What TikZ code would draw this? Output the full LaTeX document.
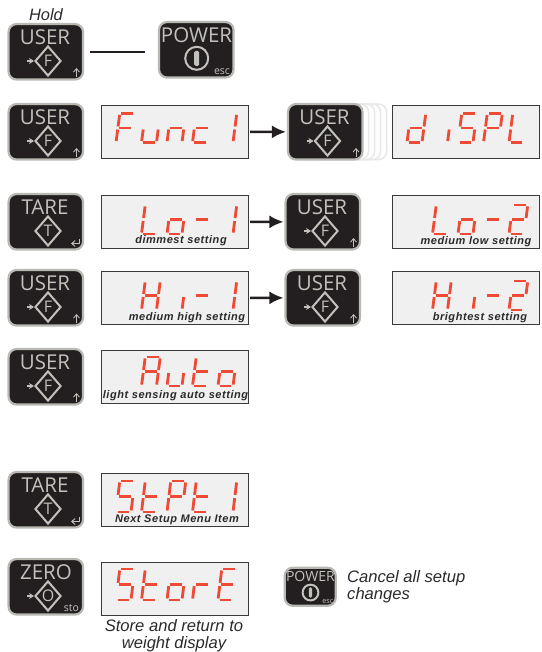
\documentclass[tikz,border=0pt]{standalone}
\usepackage{fontspec}
\usetikzlibrary{arrows.meta,shapes.geometric}
\newfontfamily\keyfont{Open Sans}
\newfontfamily\labelfont{Liberation Sans}
\newfontfamily\tinyfont[LetterSpace=5]{Liberation Sans}
\definecolor{keyink}{HTML}{231F20}
\definecolor{keygray}{HTML}{C2C2BC}
\definecolor{keyrim}{HTML}{B9B9B4}
\definecolor{ghostrim}{HTML}{E8E8E8}
\definecolor{panel}{HTML}{F0F0F0}
\definecolor{panelrim}{HTML}{3A3A3A}
\definecolor{segred}{HTML}{EE4A35}
\definecolor{captionink}{HTML}{2A2A2A}
\tikzset{
  x=1pt,y=-1pt,
  keybody/.style={rectangle,rounded corners=8pt,minimum width=74.5pt,minimum height=55.5pt,inner sep=0,fill=keyink,draw=keyrim,line width=2.2pt},
  ghostbody/.style={rectangle,rounded corners=8pt,minimum width=74.5pt,minimum height=55.5pt,inner sep=0,fill=white,draw=ghostrim,line width=1.5pt},
  keyword/.style={inner sep=0,text=keygray,font=\keyfont\fontsize{20.5}{22}\selectfont},
  keyletter/.style={inner sep=0,text=keygray,font=\keyfont\fontsize{16}{18}\selectfont},
  keysmall/.style={inner sep=0,text=keygray,font=\keyfont\fontsize{10.5}{11}\selectfont},
  keymark/.style={draw=keygray,line width=2pt},
  keyarrow/.style={draw=keygray,line width=1.2pt,-{Stealth[length=5pt,width=6pt]}},
  panelbox/.style={rectangle,minimum width=147pt,minimum height=53.5pt,inner sep=0,fill=panel,draw=panelrim,line width=1pt},
  segline/.style={draw=segred,line width=2.8pt},
  tinycaption/.style={inner sep=0,text=captionink,font=\tinyfont\bfseries\itshape\fontsize{11}{12}\selectfont},
  caption/.style={inner sep=0,text=captionink,align=center,font=\labelfont\itshape\fontsize{16.6}{17}\selectfont},
  link/.style={draw=keyink,line width=2.4pt},
  linkarrow/.style={link,-{Latex[length=14pt,width=13pt]},shorten <=1.5pt,shorten >=1pt},
}
% seven-segment strokes, origin at the lower left of a digit
\def\sega{\draw[segline] (1.6,-29)--(13.4,-29);}
\def\segb{\draw[segline] (15,-27.6)--(15,-16);}
\def\segc{\draw[segline] (15,-13)--(15,-1.4);}
\def\segd{\draw[segline] (1.6,0)--(13.4,0);}
\def\sege{\draw[segline] (0,-13)--(0,-1.4);}
\def\segf{\draw[segline] (0,-27.6)--(0,-16);}
\def\segg{\draw[segline] (1.6,-14.5)--(13.4,-14.5);}
\expandafter\def\csname glyph_\endcsname{}
\expandafter\def\csname glyphF\endcsname{a,f,g,e}
\expandafter\def\csname glyphu\endcsname{c,d,e}
\expandafter\def\csname glyphn\endcsname{g,c,e}
\expandafter\def\csname glyphc\endcsname{g,e,d}
\expandafter\def\csname glyph1\endcsname{b,c}
\expandafter\def\csname glyphd\endcsname{b,c,d,e,g}
\expandafter\def\csname glyphi\endcsname{c}
\expandafter\def\csname glyphS\endcsname{a,f,g,c,d}
\expandafter\def\csname glyphP\endcsname{a,b,f,g,e}
\expandafter\def\csname glyphL\endcsname{f,e,d}
\expandafter\def\csname glypho\endcsname{g,c,d,e}
\expandafter\def\csname glyph-\endcsname{g}
\expandafter\def\csname glyph2\endcsname{a,b,g,e,d}
\expandafter\def\csname glyphH\endcsname{f,e,b,c,g}
\expandafter\def\csname glyphA\endcsname{a,b,c,e,f,g}
\expandafter\def\csname glypht\endcsname{f,e,g,d}
\expandafter\def\csname glyphr\endcsname{e,g}
\expandafter\def\csname glyphE\endcsname{a,f,g,e,d}
% panel: name, left, top, digit top offset, digit height, five characters
\newcommand\readout[6]{%
  \node[panelbox] (#1) at (#2+73.5,#3+27) {};
  \foreach \ch [count=\cell from 0] in {#6} {
    \begin{scope}[shift={(#2+15+25.5*\cell,#3+#4+#5)},yscale=#5/29,xslant=0.13]
      \edef\seglist{\csname glyph\ch\endcsname}
      \foreach \s in \seglist {\csname seg\s\endcsname}
    \end{scope}
  }
}
\newcommand\keybase[1]{\node[keybody] (#1) at (38.3,28.8) {};}
\newcommand\keydiamond[1]{%
  \node[keymark,diamond,aspect=0.87,minimum width=26pt,minimum height=30pt,inner sep=0] (#1dia) at (40.5,38) {};}
\newcommand\upmark{\draw[draw=keygray,line width=.8pt,-{Straight Barb[length=3.5pt,width=6pt]}] (69,54) -- (69,45);}
\newcommand\userkey[3]{\begin{scope}[shift={(#2,#3)}]
  \keybase{#1}
  \node[keyword] (#1w) at (37.5,14.5) {USER};
  \keydiamond{#1}
  \node[keyletter] (#1f) at (40.5,38) {F};
  \coordinate (#1a) at (19.5,38);
  \draw[keyarrow] (#1a) -- (#1dia.west);
  \upmark
\end{scope}}
\newcommand\tarekey[3]{\begin{scope}[shift={(#2,#3)}]
  \keybase{#1}
  \node[keyword] (#1w) at (37.5,14) {TARE};
  \keydiamond{#1}
  \node[keyletter] (#1f) at (40.5,38) {T};
  \draw[draw=keygray,line width=.9pt,-{Straight Barb[length=3.5pt,width=6pt]}] (72,46) -- (72,50.5) -- (63.5,50.5);
\end{scope}}
\newcommand\zerokey[3]{\begin{scope}[shift={(#2,#3)}]
  \keybase{#1}
  \node[keyword] (#1w) at (38.5,14) {ZERO};
  \keydiamond{#1}
  \node[keyletter] (#1f) at (40.5,38) {O};
  \coordinate (#1a) at (19.5,38);
  \draw[keyarrow] (#1a) -- (#1dia.west);
  \node[keysmall] (#1s) at (64,49.7) {sto};
\end{scope}}
\newcommand\powerkey[4]{\begin{scope}[shift={(#2,#3)},scale=#4,every node/.append style={transform shape}]
  \keybase{#1}
  \node[keyword] (#1w) at (38.5,14.3) {POWER};
  \node[keymark,circle,minimum size=23pt,inner sep=0] (#1c) at (38.7,37.3) {};
  \node[rectangle,rounded corners=1.5pt,fill=keygray,minimum width=5pt,minimum height=15pt,inner sep=0] (#1b) at (38.7,37.3) {};
  \node[keysmall] (#1s) at (64,50.7) {esc};
\end{scope}}
\begin{document}
\begin{tikzpicture}
\useasboundingbox (0,0) rectangle (541,652);
% row 1
\node[inner sep=0,text=captionink,font=\labelfont\itshape\fontsize{16.4}{17}\selectfont] (hold) at (46,15) {Hold};
\userkey{holdkey}{7.5}{23}
\powerkey{powerkey}{158}{21}{1}
\draw[link] ([xshift=6pt]holdkey.east) -- ([xshift=-13pt]holdkey.east -| powerkey.west);
% row 2
\userkey{funckey}{7.5}{103}
\readout{func}{101}{105}{8.5}{29}{F,u,n,c,1}
\foreach \d in {24,18,12,6}{\node[ghostbody] at (325.3+\d,131.8) {};}
\userkey{dispkey}{287}{103}
\readout{displ}{392}{105}{8.5}{29}{d,i,S,P,L}
\draw[linkarrow] (func) -- (dispkey);
% row 3
\tarekey{lokey}{7.5}{193}
\readout{loone}{101}{195}{10}{29}{_,L,o,-,1}
\node[tinycaption] (loonec) at (181,241) {dimmest setting};
\userkey{lonext}{284.5}{193}
\draw[linkarrow] (loone) -- (lonext);
\readout{lotwo}{392}{195}{10}{29}{_,L,o,-,2}
\node[tinycaption] (lotwoc) at (476,242) {medium low setting};
% row 4
\userkey{hikey}{7.5}{269}
\readout{hione}{101}{271}{10}{29}{_,H,i,-,1}
\node[tinycaption] (hionec) at (187,317.5) {medium high setting};
\userkey{hinext}{284.5}{269}
\draw[linkarrow] (hione) -- (hinext);
\readout{hitwo}{392}{271}{10}{29}{_,H,i,-,2}
\node[tinycaption] (hitwoc) at (480,317.5) {brightest setting};
% row 5
\userkey{autokey}{7.5}{348}
\readout{auto}{101}{350}{7}{29}{_,A,u,t,o}
\node[tinycaption] (autoc) at (175.5,396) {light sensing auto setting};
% row 6
\tarekey{setkey}{7.5}{471}
\readout{stpt}{101}{473}{8}{31}{S,t,P,t,1}
\node[tinycaption] (stptc) at (177,520) {Next Setup Menu Item};
% row 7
\zerokey{zerokey}{7.5}{558}
\readout{store}{101}{562}{7}{31}{S,t,o,r,E}
\node[caption] (storec) at (174,635.5) {Store and return to\\weight display};
\powerkey{cancelkey}{284}{567}{0.685}
\node[caption,anchor=west,align=left] (cancelc) at (347,587) {Cancel all setup\\changes};
\end{tikzpicture}
\end{document}
